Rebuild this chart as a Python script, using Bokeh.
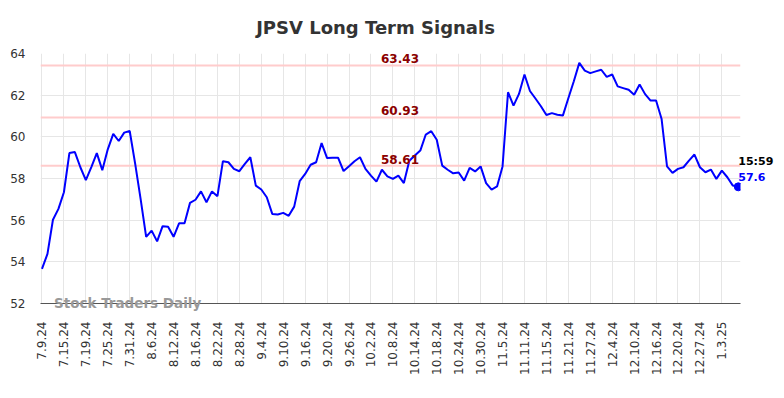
import numpy as np
from bokeh.plotting import figure
from bokeh.models import Range1d, FixedTicker, Span, Label
from bokeh.embed import file_html
from bokeh.resources import INLINE

# ---- data ----
tick_labels = ["7.9.24", "7.15.24", "7.19.24", "7.25.24", "7.31.24", "8.6.24", "8.12.24",
               "8.16.24", "8.22.24", "8.28.24", "9.4.24", "9.10.24", "9.16.24", "9.20.24",
               "9.26.24", "10.2.24", "10.8.24", "10.14.24", "10.18.24", "10.24.24",
               "10.30.24", "11.5.24", "11.11.24", "11.15.24", "11.21.24", "11.27.24",
               "12.4.24", "12.10.24", "12.16.24", "12.20.24", "12.27.24", "1.3.25"]
tick_step = 4

values = [53.66, 54.38, 56.02, 56.54, 57.34, 59.22, 59.27, 58.54, 57.92, 58.55,
          59.22, 58.40, 59.40, 60.14, 59.80, 60.20, 60.28, 58.70, 57.00, 55.20,
          55.50, 54.98, 55.71, 55.68, 55.20, 55.85, 55.85, 56.83, 56.98, 57.38,
          56.86, 57.38, 57.15, 58.83, 58.78, 58.46, 58.35, 58.70, 59.02, 57.66,
          57.47, 57.10, 56.30, 56.27, 56.35, 56.21, 56.65, 57.87, 58.22, 58.66,
          58.78, 59.70, 58.98, 59.00, 59.00, 58.36, 58.59, 58.83, 59.02, 58.46,
          58.14, 57.85, 58.42, 58.10, 57.98, 58.14, 57.78, 58.85, 59.10, 59.34,
          60.11, 60.27, 59.86, 58.62, 58.42, 58.25, 58.29, 57.90, 58.51, 58.34,
          58.58, 57.78, 57.47, 57.62, 58.58, 62.14, 61.50, 62.06, 62.99, 62.20,
          61.84, 61.47, 61.05, 61.14, 61.06, 61.02, 61.85, 62.67, 63.55, 63.18,
          63.06, 63.14, 63.22, 62.88, 62.99, 62.42, 62.34, 62.26, 62.02, 62.51,
          62.05, 61.74, 61.74, 60.87, 58.58, 58.27, 58.46, 58.54, 58.86, 59.15,
          58.54, 58.30, 58.43, 57.98, 58.38, 58.06, 57.66, 57.60]

levels = [63.43, 60.93, 58.61]
y_ticks = [52, 54, 56, 58, 60, 62, 64]
last_time = "15:59"
title = "JPSV Long Term Signals"
watermark = "Stock Traders Daily"

FONT = "DejaVu Sans"

xs = list(range(len(values)))
x_start, x_end = -0.27, len(values) - 0.6

p = figure(width=784, height=398, output_backend="svg", toolbar_location=None,
           x_range=Range1d(x_start, x_end), y_range=Range1d(y_ticks[0], y_ticks[-1]),
           min_border_left=40, min_border_right=44, min_border_top=53, min_border_bottom=95)
p.outline_line_color = None
p.background_fill_color = "white"
p.border_fill_color = "white"

# axes
tick_pos = [i * tick_step for i in range(len(tick_labels))]
p.xaxis.ticker = FixedTicker(ticks=tick_pos)
p.xaxis.major_label_overrides = {t: l for t, l in zip(tick_pos, tick_labels)}
p.xaxis.major_label_orientation = np.pi / 2
p.xaxis.axis_line_color = "#555555"
p.xaxis.major_tick_line_color = None
p.xaxis.minor_tick_line_color = None
p.xaxis.major_tick_out = 0
p.xaxis.major_tick_in = 0
p.xaxis.major_label_standoff = 18
p.xaxis.major_label_text_font = FONT
p.xaxis.major_label_text_font_size = "12px"
p.xaxis.major_label_text_color = "#333333"

p.yaxis.ticker = FixedTicker(ticks=y_ticks)
p.yaxis.axis_line_color = None
p.yaxis.major_tick_line_color = None
p.yaxis.minor_tick_line_color = None
p.yaxis.major_tick_out = 0
p.yaxis.major_tick_in = 0
p.yaxis.major_label_standoff = 15
p.yaxis.major_label_text_font = FONT
p.yaxis.major_label_text_font_size = "12px"
p.yaxis.major_label_text_color = "#333333"

p.xgrid.grid_line_color = "#e6e6e6"
p.ygrid.grid_line_color = "#e6e6e6"

x_mid = (x_start + x_end) / 2
for lv in levels:
    p.add_layout(Span(location=lv, dimension="width", line_color="#ffcccc",
                      line_width=2, level="underlay"))
    p.add_layout(Label(x=x_mid, y=lv, text=f"{lv:.2f}", text_align="center",
                       x_offset=9.5, text_baseline="bottom", y_offset=2,
                       text_color="#8b0000", text_font=FONT, text_font_size="12px",
                       text_font_style="bold"))

p.line(xs, values, line_color="blue", line_width=2)
p.scatter([xs[-1]], [values[-1]], size=8, color="blue")

# annotations placed in side panels so they are not clipped to the frame
p.add_layout(Label(x=x_mid, y=y_ticks[-1], x_offset=-15, y_offset=26, text=title,
                   text_align="center", text_baseline="middle", text_color="#333333",
                   text_font=FONT, text_font_size="18px", text_font_style="bold"), "above")

p.add_layout(Label(x=x_start, y=y_ticks[0], x_offset=13.5, y_offset=1, text=watermark,
                   text_align="left", text_baseline="middle", text_color="#999999",
                   text_font=FONT, text_font_size="13.5px", text_font_style="bold"), "below")

p.add_layout(Label(x=xs[-1], y=values[-1], text=last_time, text_align="left",
                   text_baseline="middle", y_offset=25, text_color="black",
                   text_font=FONT, text_font_size="11px", text_font_style="bold"), "right")
p.add_layout(Label(x=xs[-1], y=values[-1], text=f"{values[-1]}", text_align="left",
                   text_baseline="middle", y_offset=10, text_color="blue",
                   text_font=FONT, text_font_size="11px", text_font_style="bold"), "above")

open("out.html", "w").write(file_html(p, INLINE))
